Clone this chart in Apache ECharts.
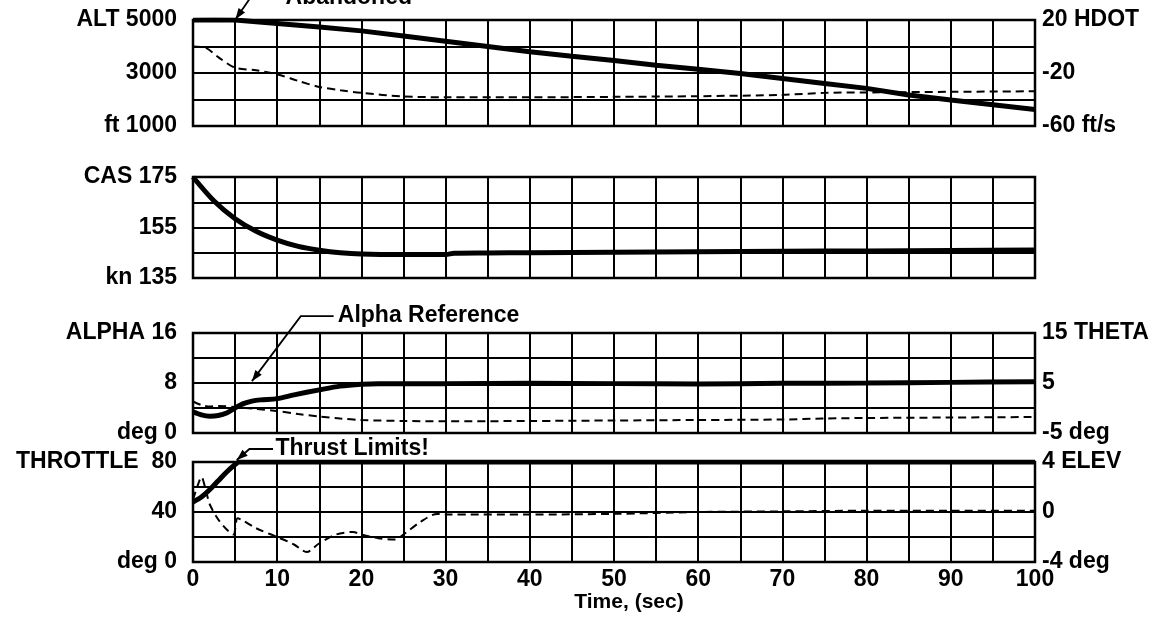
<!DOCTYPE html>
<html><head><meta charset="utf-8">
<script src="https://cdn.jsdelivr.net/npm/echarts@6/dist/echarts.min.js"></script>
<style>html,body{margin:0;padding:0;background:#fff}#c{width:1166px;height:638px}</style>
</head><body><div id="c"></div>
<script>
// ---- data ----
const timeTicks = [0,10,20,30,40,50,60,70,80,90,100];
const altT = [0,2.5,5,10,15,20,25,30,35,40,45,50,55,60,65,70,75,80,85,90,95,100];
const altV = [5000,5010,5000,4870,4740,4590,4400,4200,4000,3800,3630,3470,3290,3140,2980,2790,2600,2420,2170,1980,1800,1620];
const hdotT = [0,1.5,3,5,7.5,10,12.5,15,17.5,20,25,30,40,50,60,70,75,80,90,100];
const hdotV = [0,-1,-8,-16,-18,-21,-26,-30.5,-33,-35,-37.7,-38.3,-38.3,-38,-37.5,-36.5,-35,-34.7,-34.2,-33.8];
const casT = [0,2.5,5,7.5,10,12.5,15,17.5,20,25,30,31,35,40,50,60,70,80,90,100];
const casV = [175,165.5,158.5,153.5,150,147.5,146,145,144.5,144.3,144.3,144.8,144.9,145.0,145.2,145.4,145.6,145.7,145.9,146.1];
const alphaT = [0,1,2,3,4,5,6,7,8,10,12,15,17.5,20,22,25,30,40,50,60,70,80,90,100];
const alphaV = [3.4,2.9,2.7,2.8,3.2,4.0,4.7,5.1,5.3,5.5,6.1,6.9,7.5,7.8,7.9,7.9,7.9,7.95,7.9,7.85,7.95,8.0,8.1,8.2];
const thetaT = [0,1,2,3,5,7.5,10,12.5,15,17.5,20,25,30,40,50,60,70,75,80,90,100];
const thetaV = [1.3,0.6,0.3,0.4,0.2,-0.2,-0.6,-1.2,-1.7,-2.1,-2.4,-2.6,-2.65,-2.6,-2.5,-2.4,-2.3,-2.1,-2.0,-1.9,-1.8];
const thrT = [0,1,2,3,4,5,5.5,10,20,30,40,50,60,70,80,90,100];
const thrV = [48,52,58,65,72,78,80,80,80,80,80,80,80,80,80,80,80];
const elevT = [0,0.5,1,1.5,2,3,4,4.8,5.3,6,7.5,10,12,13.5,15,17,19,20,22,24,25,27,29,30,40,50,60,70,80,90,100];
const elevV = [1.0,2.0,2.8,1.8,0.6,-0.6,-1.4,-1.8,-0.5,-0.7,-1.3,-2.0,-2.6,-3.2,-2.5,-1.8,-1.6,-1.8,-2.1,-2.2,-1.8,-0.8,-0.15,-0.2,-0.2,-0.15,0,0.05,0.1,0.1,0.1];
// axis label texts
const altLabels = {5000:'ALT 5000',3000:'3000',1000:'ft 1000'};
const hdotLabels = {20:'20 HDOT','-20':'-20','-60':'-60 ft/s'};
const casLabels = {175:'CAS 175',155:'155',135:'kn 135'};
const alphaLabels = {16:'ALPHA 16',8:'8',0:'deg 0'};
const thetaLabels = {15:'15 THETA',5:'5','-5':'-5 deg'};
const thrLabels = {80:'THROTTLE  80',40:'40',0:'deg 0'};
const elevLabels = {4:'4 ELEV',0:'0','-4':'-4 deg'};
// annotations: text + leader points in data coords of a series' axes
const annotations = [
  {text:'Abandoned', seriesIndex:0, pts:[[6.8,5830],[5.05,5030]], textAt:[18.5,5830], align:'center'},
  {text:'Alpha Reference', seriesIndex:3, pts:[[16.7,18.7],[12.8,18.7],[7.0,8.3]], textAt:[17.2,18.7], align:'left'},
  {text:'Thrust Limits!', seriesIndex:5, pts:[[9.5,90.4],[6.7,90.4],[5.2,81.6]], textAt:[9.8,90.4], align:'left'}
];

const pairs = (t,v)=>t.map((x,i)=>[x,v[i]]);
const FONT = 'Liberation Sans';
const FS = 23;
const lblStyle = {color:'#000',fontFamily:FONT,fontWeight:'bold',fontSize:FS};
const grids = [
  {top:20,height:106},{top:177,height:101},{top:333,height:100},{top:462,height:100}
].map(g=>({left:193,right:131,top:g.top,height:g.height,show:true,borderColor:'#000',borderWidth:2.5,backgroundColor:'transparent'}));

function xAx(i){
  return {type:'value',gridIndex:i,min:0,max:100,interval:5,
    axisLine:{show:false},axisTick:{show:false},
    splitLine:{show:true,lineStyle:{color:'#000',width:2}},
    axisLabel: i===3 ? Object.assign({show:true,margin:6,formatter:v=>timeTicks.includes(v)?String(v):''},lblStyle) : {show:false},
    name: i===3 ? 'Time, (sec)' : '', nameLocation:'middle', nameGap:29,
    nameTextStyle: {color:'#000',fontFamily:FONT,fontWeight:'bold',fontSize:21,padding:[0,0,0,30]}};
}
function yAx(i,pos,min,max,interval,labels,split){
  return {type:'value',gridIndex:i,position:pos,min:min,max:max,interval:interval,
    axisLine:{show:false},axisTick:{show:false},
    splitLine:{show:split,lineStyle:{color:'#000',width:2}},
    axisLabel:Object.assign({show:true,margin:pos==='left'?16:7,
      formatter:v=>labels[v]!==undefined?labels[v]:''},lblStyle)};
}
const solid = {color:'#000',width:5,type:'solid'};
const dashed = {color:'#000',width:2,type:[8,5]};
const option = {
  animation:false,
  backgroundColor:'#fff',
  grid:grids,
  xAxis:[xAx(0),xAx(1),xAx(2),xAx(3)],
  yAxis:[
    yAx(0,'left',1000,5000,1000,altLabels,true),
    yAx(0,'right',-60,20,20,hdotLabels,false),
    yAx(1,'left',135,175,10,casLabels,true),
    yAx(2,'left',0,16,4,alphaLabels,true),
    yAx(2,'right',-5,15,5,thetaLabels,false),
    yAx(3,'left',0,80,20,thrLabels,true),
    yAx(3,'right',-4,4,2,elevLabels,false)
  ],
  series:[
    {name:'ALT',type:'line',xAxisIndex:0,yAxisIndex:0,data:pairs(altT,altV),showSymbol:false,lineStyle:solid},
    {name:'HDOT',type:'line',xAxisIndex:0,yAxisIndex:1,data:pairs(hdotT,hdotV),showSymbol:false,lineStyle:dashed,smooth:0.3},
    {name:'CAS',type:'line',xAxisIndex:1,yAxisIndex:2,data:pairs(casT,casV),showSymbol:false,lineStyle:solid,smooth:0.3},
    {name:'ALPHA',type:'line',xAxisIndex:2,yAxisIndex:3,data:pairs(alphaT,alphaV),showSymbol:false,lineStyle:solid,smooth:0.3},
    {name:'THETA',type:'line',xAxisIndex:2,yAxisIndex:4,data:pairs(thetaT,thetaV),showSymbol:false,lineStyle:dashed,smooth:0.3},
    {name:'THROTTLE',type:'line',xAxisIndex:3,yAxisIndex:5,data:pairs(thrT,thrV),showSymbol:false,lineStyle:solid,smooth:0.3},
    {name:'ELEV',type:'line',xAxisIndex:3,yAxisIndex:6,data:pairs(elevT,elevV),showSymbol:false,lineStyle:dashed,smooth:0.3}
  ]
};
const chart = echarts.init(document.getElementById('c'),null,{renderer:'canvas'});
chart.setOption(option);

// leaders + texts placed through the series' own scales
const graphics = [];
annotations.forEach(a=>{
  const px = a.pts.map(p=>chart.convertToPixel({seriesIndex:a.seriesIndex},p));
  graphics.push({type:'polyline',silent:true,shape:{points:px},style:{stroke:'#000',lineWidth:1.8,fill:null}});
  const tip = px[px.length-1], prev = px[px.length-2];
  const dx = tip[0]-prev[0], dy = tip[1]-prev[1], L = Math.hypot(dx,dy);
  const ux = dx/L, uy = dy/L, len = 11, w = 4;
  const bx = tip[0]-ux*len, by = tip[1]-uy*len;
  graphics.push({type:'polygon',silent:true,shape:{points:[tip,[bx-uy*w,by+ux*w],[bx+uy*w,by-ux*w]]},style:{fill:'#000'}});
  const tp = chart.convertToPixel({seriesIndex:a.seriesIndex},a.textAt);
  graphics.push({type:'text',silent:true,x:tp[0],y:tp[1],style:{text:a.text,fill:'#000',font:'bold '+FS+'px '+FONT,textAlign:a.align,textVerticalAlign:'middle'}});
});
chart.setOption({graphic:graphics});
</script></body></html>
